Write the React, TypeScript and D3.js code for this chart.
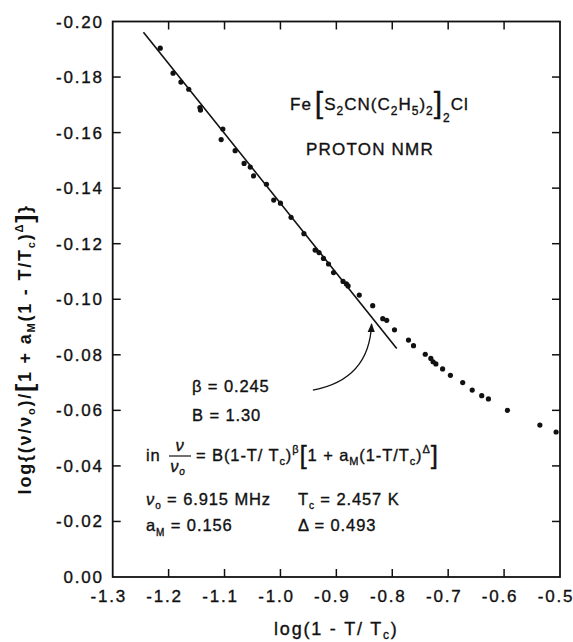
import React from 'react';
import * as d3 from 'd3';

const xTicks = [-1.3, -1.2, -1.1, -1.0, -0.9, -0.8, -0.7, -0.6, -0.5];
const yTicks = [0, -0.02, -0.04, -0.06, -0.08, -0.1, -0.12, -0.14, -0.16, -0.18, -0.2];

const logX = [
  -1.215, -1.192, -1.178, -1.164, -1.144, -1.143, -1.103, -1.106, -1.081, -1.065,
  -1.054, -1.048, -1.025, -1.012, -1.0, -0.981, -0.958, -0.938, -0.931, -0.923,
  -0.914, -0.905, -0.888, -0.882, -0.879, -0.859, -0.835, -0.817, -0.81, -0.796,
  -0.771, -0.762, -0.741, -0.731, -0.727, -0.722, -0.71, -0.696, -0.674, -0.657,
  -0.64, -0.628, -0.594, -0.536, -0.507,
];
const logY = [
  -0.1904, -0.1814, -0.1782, -0.1756, -0.169, -0.1681, -0.1613, -0.1575, -0.1535, -0.1489,
  -0.1476, -0.1444, -0.1414, -0.1357, -0.1346, -0.1295, -0.1236, -0.1177, -0.1168, -0.1147,
  -0.1127, -0.1096, -0.1064, -0.1055, -0.1048, -0.1015, -0.0977, -0.093, -0.0924, -0.089,
  -0.0853, -0.0833, -0.0802, -0.0787, -0.0775, -0.0767, -0.0749, -0.0726, -0.07, -0.0673,
  -0.0653, -0.0641, -0.06, -0.0547, -0.0522,
];

const fitX = [-1.245, -0.792];
const fitY = [-0.1961, -0.0823];

// arrow annotation (data coords): start, control, end
const arrowX = [-0.942, -0.841, -0.837];
const arrowY = [-0.0673, -0.0711, -0.0911];

const FONT = "'Liberation Sans', Arial, sans-serif";

export default function App() {
  const W = 573;
  const H = 642;
  const left = 112.7, right = 560, top = 21.5, bottom = 577;
  const x = d3.scaleLinear().domain([-1.3, -0.5]).range([left, right]);
  const y = d3.scaleLinear().domain([0, -0.2]).range([bottom, top]);
  const tick = 8;

  const fmtY = (v: number) => (v === 0 ? '0.00' : '-' + Math.abs(v).toFixed(2));
  const fmtX = (v: number) => '-' + Math.abs(v).toFixed(1);

  const line = d3.line<number>().x((_, i) => x(fitX[i])).y((_, i) => y(fitY[i]));
  const arrowPath = d3.path();
  arrowPath.moveTo(x(arrowX[0]), y(arrowY[0]));
  arrowPath.quadraticCurveTo(x(arrowX[1]), y(arrowY[1]), x(arrowX[2]), y(arrowY[2]));

  const ts = { fontFamily: FONT, fontSize: 17, letterSpacing: 1.8, fill: '#111', stroke: '#111', strokeWidth: 0.35 } as const;
  const an = { ...ts, fontSize: 16.5, letterSpacing: 0.9 } as const;

  return (
    <svg width={W} height={H} style={{ position: 'absolute', left: 0, top: 0, background: '#fff' }}>
      <defs>
        <marker id="ah" viewBox="0 0 10 10" refX="9" refY="5" markerWidth="9" markerHeight="9" orient="auto" markerUnits="userSpaceOnUse">
          <path d="M0,1 L10,5 L0,9 Z" fill="#111" />
        </marker>
      </defs>
      <rect x={left} y={top} width={right - left} height={bottom - top} fill="none" stroke="#111" strokeWidth={1.8} />
      {xTicks.slice(1, -1).map((t) => (
        <g key={'xt' + t}>
          <line x1={x(t)} x2={x(t)} y1={bottom} y2={bottom - tick} stroke="#111" strokeWidth={1.5} />
          <line x1={x(t)} x2={x(t)} y1={top} y2={top + tick} stroke="#111" strokeWidth={1.5} />
        </g>
      ))}
      {yTicks.slice(1, -1).map((t) => (
        <g key={'yt' + t}>
          <line x1={left} x2={left + tick} y1={y(t)} y2={y(t)} stroke="#111" strokeWidth={1.5} />
          <line x1={right} x2={right - tick} y1={y(t)} y2={y(t)} stroke="#111" strokeWidth={1.5} />
        </g>
      ))}
      {xTicks.map((t) => (
        <text key={'xl' + t} x={x(t) - 4} y={bottom + 25} textAnchor="middle" {...ts}>{fmtX(t)}</text>
      ))}
      {yTicks.map((t) => (
        <text key={'yl' + t} x={left - 9} y={y(t) + 6} textAnchor="end" {...ts}>{fmtY(t)}</text>
      ))}
      {/* x title */}
      <text x={(left + right) / 2} y={635} textAnchor="middle" {...ts} fontSize={18}>
        log(1 - T/ T<tspan fontSize={12} dy={4}>c</tspan><tspan dy={-4}>)</tspan>
      </text>
      {/* y title */}
      <text transform={`translate(31, ${(top + bottom) / 2 + 50}) rotate(-90)`} textAnchor="middle" {...ts} fontSize={18} fontWeight="bold" strokeWidth={0}>
        log{'{'}(ν/ν<tspan fontSize={11} dy={4}>o</tspan><tspan dy={-4}>)/</tspan>
        <tspan fontSize={24} dy={2}>[</tspan><tspan dy={-2}>1 + a</tspan>
        <tspan fontSize={11} dy={4}>M</tspan><tspan dy={-4}>(1 - T/T</tspan>
        <tspan fontSize={11} dy={4}>c</tspan><tspan dy={-4}>)</tspan>
        <tspan fontSize={11} dy={-8}>Δ</tspan><tspan fontSize={24} dy={10}>]</tspan><tspan dy={-2}>{'}'}</tspan>
      </text>

      {/* fit line */}
      <path d={line([0, 1]) || ''} fill="none" stroke="#111" strokeWidth={1.6} />
      {/* data points */}
      {logX.map((v, i) => (
        <circle key={'p' + i} cx={x(v)} cy={y(logY[i])} r={2.6} fill="#111" />
      ))}
      {/* arrow */}
      <path d={arrowPath.toString()} fill="none" stroke="#111" strokeWidth={1.3} markerEnd="url(#ah)" />

      {/* compound label */}
      <text x={290} y={110} {...ts} fontSize={17} letterSpacing={1}>
        Fe<tspan fontSize={30} dy={3} dx={3}>[</tspan><tspan dy={-3}>S</tspan>
        <tspan fontSize={12} dy={5}>2</tspan><tspan dy={-5}>CN(C</tspan>
        <tspan fontSize={12} dy={5}>2</tspan><tspan dy={-5}>H</tspan>
        <tspan fontSize={12} dy={5}>5</tspan><tspan dy={-5}>)</tspan>
        <tspan fontSize={12} dy={5}>2</tspan><tspan fontSize={30} dy={-2}>]</tspan>
        <tspan fontSize={12} dy={9}>2</tspan><tspan dy={-12}>Cl</tspan>
      </text>
      <text x={306} y={155} {...ts} fontSize={17} letterSpacing={1.2}>PROTON  NMR</text>

      <text x={192} y={392} {...an}>β = 0.245</text>
      <text x={192} y={421} {...an}>B = 1.30</text>

      {/* equation */}
      <text x={146} y={461} {...an}>in</text>
      <text x={180} y={451} textAnchor="middle" {...an} fontStyle="italic">ν</text>
      <line x1={169} x2={191} y1={456} y2={456} stroke="#111" strokeWidth={1.2} />
      <text x={178} y={472} textAnchor="middle" {...an} fontStyle="italic">ν<tspan fontSize={10} dy={3}>o</tspan></text>
      <text x={196} y={461} {...an}>
        = B(1-T/ T<tspan fontSize={11} dy={4}>c</tspan><tspan dy={-4}>)</tspan>
        <tspan fontSize={11} dy={-8}>β</tspan><tspan fontSize={26} dy={11}>[</tspan>
        <tspan dy={-3}>1 + a</tspan><tspan fontSize={11} dy={4}>M</tspan>
        <tspan dy={-4}>(1-T/T</tspan><tspan fontSize={11} dy={4}>c</tspan>
        <tspan dy={-4}>)</tspan><tspan fontSize={11} dy={-8}>Δ</tspan>
        <tspan fontSize={26} dy={11}>]</tspan>
      </text>

      <text x={146} y={505} {...an}>
        <tspan fontStyle="italic">ν</tspan><tspan fontSize={10} dy={4}>o</tspan><tspan dy={-4}> = 6.915 MHz</tspan>
      </text>
      <text x={298} y={505} {...an}>
        T<tspan fontSize={10} dy={4}>c</tspan><tspan dy={-4}> = 2.457 K</tspan>
      </text>
      <text x={146} y={531} {...an}>
        a<tspan fontSize={10} dy={5}>M</tspan><tspan dy={-5}> = 0.156</tspan>
      </text>
      <text x={298} y={531} {...an}>Δ = 0.493</text>
    </svg>
  );
}
